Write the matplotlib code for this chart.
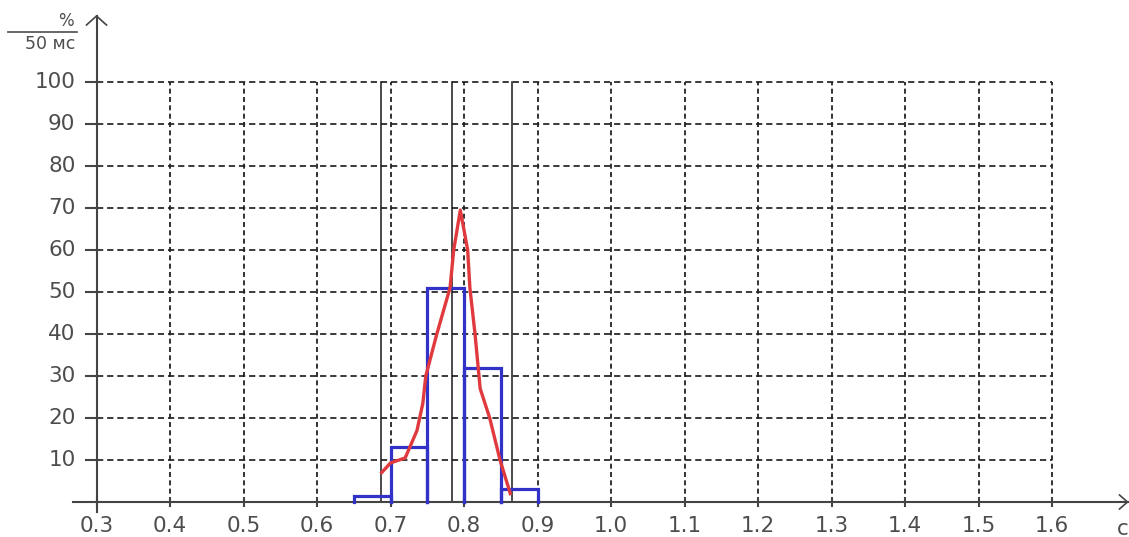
import matplotlib
matplotlib.use("Agg")
import matplotlib.pyplot as plt

plt.rcParams['font.family'] = ['DejaVu Sans']
plt.rcParams['lines.scale_dashes'] = False

# histogram of intervals, 50 ms bins (%)
bin_left = [0.65, 0.70, 0.75, 0.80, 0.85]
bin_pct = [1.5, 13, 51, 32, 3]
bin_w = 0.05

# smoothed distribution curve
curve_x = [0.688, 0.700, 0.720, 0.736, 0.744, 0.748, 0.763, 0.781, 0.786,
           0.795, 0.805, 0.808, 0.815, 0.822, 0.835, 0.849, 0.863]
curve_y = [7, 9.3, 10.5, 17, 23.5, 30, 40, 51, 60,
           69.5, 60, 51, 40, 27, 20, 10, 2]

# solid markers (mean and bounds)
marks = [0.687, 0.784, 0.865]

xticks = [0.3, 0.4, 0.5, 0.6, 0.7, 0.8, 0.9, 1.0, 1.1, 1.2, 1.3, 1.4, 1.5, 1.6]
yticks = [10, 20, 30, 40, 50, 60, 70, 80, 90, 100]

W, H = 1129, 537
sx = 735.0   # pixels per second
sy = 4.2     # pixels per percent
ox, oy = 96.5, 502.0   # pixel position of (0.3, 0)

x0 = 0.3 - ox / sx
y0 = -(H - oy) / sy
px = 1.0 / sx
py = 1.0 / sy

fig = plt.figure(figsize=(W / 100, H / 100), dpi=100)
ax = fig.add_axes([0, 0, 1, 1])
ax.set_xlim(x0, x0 + W / sx)
ax.set_ylim(y0, y0 + H / sy)
ax.axis('off')

gc = '#222222'
tc = '#4d4d4d'
ac = '#444444'

# dashed grid
for y in yticks:
    ax.plot([0.3, xticks[-1]], [y, y], color=gc, lw=1.25, dashes=(4.5, 2.8), zorder=1)
for x in xticks[1:]:
    ax.plot([x, x], [0, yticks[-1]], color=gc, lw=1.3, dashes=(3.6, 2.4), zorder=1)

# vertical markers
for m in marks:
    ax.plot([m, m], [0, yticks[-1]], color='#1a1a1a', lw=1.1, zorder=2)

# axes with arrows
ax.plot([0.3 - 23 * px, 0.3 + 1031 * px], [0, 0], color=ac, lw=1.5, zorder=3)
ax.plot([0.3, 0.3], [-2.4, (oy - 16) * py], color=ac, lw=1.5, zorder=3)
ytop = (oy - 16) * py
ax.plot([0.3 - 10 * px, 0.3, 0.3 + 10 * px], [ytop - 9 * py, ytop, ytop - 9 * py],
        color=ac, lw=1.2, zorder=3)
xr = 0.3 + 1031 * px
ax.plot([xr - 8 * px, xr, xr - 8 * px], [7 * py, 0, -7 * py], color=ac, lw=1.2, zorder=3)

# ticks and labels
for x in xticks:
    ax.plot([x, x], [-4 * py, 4 * py], color=ac, lw=1.5, zorder=3)
    ax.text(x, -24 * py, f"{x:.1f}", ha='center', va='center', fontsize=15.5, color=tc)
for y in yticks:
    ax.plot([0.3 - 10 * px, 0.3 + 4 * px], [y, y], color=ac, lw=1.5, zorder=3)
    ax.text(0.3 - 21 * px, y, str(y), ha='right', va='center', fontsize=15.5, color=tc)

# units
ax.text(0.3 - 31 * px, (oy - 21) * py, "%", ha='center', va='center', fontsize=12, color=tc)
ax.plot([0.3 - 88 * px, 0.3 - 20 * px], [(oy - 32) * py] * 2, color=tc, lw=1.2)
ax.text(0.3 - 21 * px, (oy - 44) * py, "50 мс", ha='right', va='center', fontsize=12.5, color=tc)
ax.text(0.3 + 1026 * px, -27 * py, "с", ha='center', va='center', fontsize=15.5, color=tc)

# histogram bars (open at the bottom) and curve
for l, h in zip(bin_left, bin_pct):
    ax.plot([l, l, l + bin_w, l + bin_w], [0, h, h, 0], color='#3232c8',
            lw=2.3, solid_joinstyle='miter', zorder=4)
ax.plot(curve_x, curve_y, color='#e03a3e', lw=2.4, zorder=5)

fig.savefig("out.png", dpi=100)
